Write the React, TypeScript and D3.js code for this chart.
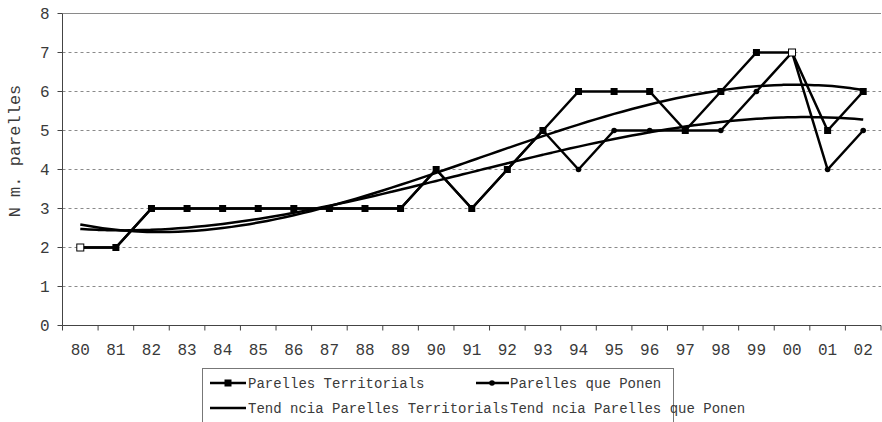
import * as d3 from 'd3';

const years = ['80', '81', '82', '83', '84', '85', '86', '87', '88', '89', '90', '91', '92', '93', '94', '95', '96', '97', '98', '99', '00', '01', '02'];
const territorials = [2, 2, 3, 3, 3, 3, 3, 3, 3, 3, 4, 3, 4, 5, 6, 6, 6, 5, 6, 7, 7, 5, 6];
const ponen = [2, 2, 3, 3, 3, 3, 3, 3, 3, 3, 4, 3, 4, 5, 4, 5, 5, 5, 5, 6, 7, 4, 5];
const yTicks = [0, 1, 2, 3, 4, 5, 6, 7, 8];
const hollowTerritorials = ['80', '00'];

const W = 882;
const H = 422;
const margin = {top: 13.5, right: 1, bottom: 96.5, left: 62.5};
const font = '"Liberation Mono", "Courier New", monospace';
const textColor = '#3a3a3a';

// polynomial trend line (order 3), like the spreadsheet one
const polyFit = (ys, order) => {
  const n = ys.length;
  const xs = ys.map((_, i) => (i - (n - 1) / 2) / 10);
  const m = order + 1;
  const A = d3.range(m).map(r => d3.range(m + 1).map(c => {
    if (c < m) return d3.sum(xs, x => Math.pow(x, r + c));
    return d3.sum(xs, (x, i) => ys[i] * Math.pow(x, r));
  }));
  for (let i = 0; i < m; i++) {
    let p = i;
    for (let k = i + 1; k < m; k++) if (Math.abs(A[k][i]) > Math.abs(A[p][i])) p = k;
    [A[i], A[p]] = [A[p], A[i]];
    for (let k = 0; k < m; k++) {
      if (k === i) continue;
      const f = A[k][i] / A[i][i];
      for (let c = i; c <= m; c++) A[k][c] -= f * A[i][c];
    }
  }
  const coef = d3.range(m).map(i => A[i][m] / A[i][i]);
  return t => {
    const x = (t - (n - 1) / 2) / 10;
    return d3.sum(coef, (c, j) => c * Math.pow(x, j));
  };
};

export default function App() {
  const width = W - margin.left - margin.right;
  const height = H - margin.top - margin.bottom;

  const x = d3.scaleBand().domain(years).range([0, width]);
  const y = d3.scaleLinear().domain([0, 8]).range([height, 0]);
  const cx = d => x(d) + x.bandwidth() / 2;
  const xi = d3.scaleLinear().domain([0, years.length - 1]).range([cx(years[0]), cx(years[years.length - 1])]);

  const line = d3.line().x(d => cx(d[0])).y(d => y(d[1]));
  const trend = d3.line().x(d => xi(d[0])).y(d => y(d[1])).curve(d3.curveBasis);

  const fitT = polyFit(territorials, 3);
  const fitP = polyFit(ponen, 3);
  const steps = d3.range(0, years.length - 1 + 0.001, 0.25);

  return (
    <svg width={W} height={H} style={{position: 'absolute', left: 0, top: 0}} fontFamily={font}>
      <rect width={W} height={H} fill="#fff" />
      <g transform={`translate(${margin.left},${margin.top})`}>
        {yTicks.map(t => (
          <line key={t} x1={0} x2={width} y1={y(t)} y2={y(t)}
            stroke="#8a8a8a" strokeWidth={1}
            strokeDasharray={t === 8 || t === 0 ? null : '3,3'} />
        ))}
        <line x1={0} x2={0} y1={0} y2={height} stroke="#444" />
        <line x1={0} x2={width} y1={height} y2={height} stroke="#444" />
        {yTicks.map(t => (
          <g key={t}>
            <line x1={-5} x2={0} y1={y(t)} y2={y(t)} stroke="#444" />
            <text x={-13} y={y(t) + 5} textAnchor="end" fontSize={16} fill={textColor}>{t}</text>
          </g>
        ))}
        {years.map(d => (
          <g key={d}>
            <line x1={x(d)} x2={x(d)} y1={height} y2={height + 5} stroke="#444" />
            <text x={cx(d)} y={height + 29} textAnchor="middle" fontSize={16} fill={textColor}>{d}</text>
          </g>
        ))}
        <line x1={width} x2={width} y1={height} y2={height + 5} stroke="#444" />

        <path d={trend(steps.map(t => [t, fitT(t)]))} fill="none" stroke="#000" strokeWidth={2.5} />
        <path d={trend(steps.map(t => [t, fitP(t)]))} fill="none" stroke="#000" strokeWidth={2.5} />

        <path d={line(years.map((d, i) => [d, ponen[i]]))} fill="none" stroke="#000" strokeWidth={2.5} />
        {years.map((d, i) => (
          <circle key={d} cx={cx(d)} cy={y(ponen[i])} r={2.8} fill="#000" />
        ))}

        <path d={line(years.map((d, i) => [d, territorials[i]]))} fill="none" stroke="#000" strokeWidth={2.5} />
        {years.map((d, i) => {
          const hollow = hollowTerritorials.includes(d);
          return (
            <rect key={d} x={cx(d) - 3.5} y={y(territorials[i]) - 3.5} width={7} height={7}
              fill={hollow ? '#fff' : '#000'} stroke="#000" strokeWidth={hollow ? 1 : 0} />
          );
        })}
      </g>

      <text transform="translate(20,151) rotate(-90)" textAnchor="middle" fontSize={17} fill={textColor}>N m. parelles</text>

      <g>
        <rect x={202.5} y={368.5} width={471} height={70} fill="#fff" stroke="#777" />
        <line x1={210} x2={246} y1={383} y2={383} stroke="#000" strokeWidth={2.5} />
        <rect x={224.5} y={379.5} width={7} height={7} fill="#000" />
        <text x={248} y={388} fontSize={14} fill={textColor}>Parelles Territorials</text>
        <line x1={476} x2={509} y1={383} y2={383} stroke="#000" strokeWidth={2.5} />
        <circle cx={492} cy={383} r={2.8} fill="#000" />
        <text x={510} y={388} fontSize={14} fill={textColor}>Parelles que Ponen</text>
        <line x1={210} x2={246} y1={408} y2={408} stroke="#000" strokeWidth={2.5} />
        <text x={248} y={413} fontSize={14} fill={textColor}>Tend ncia Parelles Territorials</text>
        <text x={510} y={413} fontSize={14} fill={textColor}>Tend ncia Parelles que Ponen</text>
      </g>
    </svg>
  );
}
